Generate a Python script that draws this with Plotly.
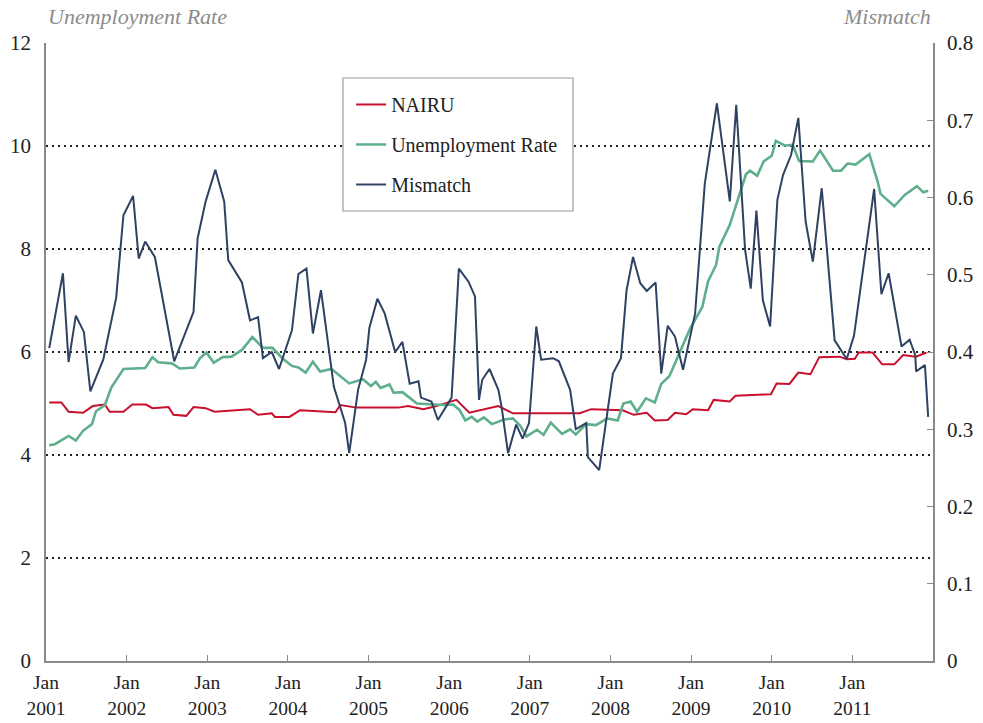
import plotly.graph_objects as go

# ---- data (decimal years, values) ----
nairu_x = [2001.04, 2001.19, 2001.28, 2001.46, 2001.58, 2001.73, 2001.79, 2001.96, 2002.07, 2002.24,
           2002.32, 2002.52, 2002.58, 2002.74, 2002.83, 2002.98, 2003.09, 2003.53, 2003.63, 2003.80,
           2003.84, 2004.02, 2004.15, 2004.59, 2004.65, 2004.85, 2005.37, 2005.49, 2005.68, 2005.82,
           2006.09, 2006.25, 2006.61, 2006.79, 2007.62, 2007.76, 2008.15, 2008.29, 2008.45, 2008.55,
           2008.71, 2008.80, 2008.94, 2009.02, 2009.21, 2009.28, 2009.48, 2009.55, 2009.99, 2010.06,
           2010.22, 2010.33, 2010.48, 2010.59, 2010.84, 2010.93, 2011.03, 2011.08, 2011.25, 2011.37,
           2011.52, 2011.63, 2011.79, 2011.92]
nairu_y = [5.02, 5.02, 4.84, 4.82, 4.95, 4.98, 4.84, 4.84, 4.98, 4.98,
           4.91, 4.93, 4.78, 4.76, 4.93, 4.91, 4.84, 4.89, 4.78, 4.81,
           4.74, 4.74, 4.87, 4.83, 4.97, 4.92, 4.92, 4.95, 4.89, 4.94,
           5.07, 4.82, 4.95, 4.81, 4.81, 4.89, 4.87, 4.78, 4.82, 4.67,
           4.68, 4.82, 4.79, 4.89, 4.87, 5.07, 5.04, 5.15, 5.18, 5.39,
           5.38, 5.60, 5.57, 5.90, 5.91, 5.86, 5.87, 5.99, 5.99, 5.76,
           5.76, 5.94, 5.91, 5.99]

unemp_x = [2001.04, 2001.11, 2001.28, 2001.37, 2001.46, 2001.57, 2001.62, 2001.73, 2001.81, 2001.96,
           2002.23, 2002.32, 2002.39, 2002.56, 2002.66, 2002.84, 2002.91, 2002.99, 2003.08, 2003.19,
           2003.30, 2003.43, 2003.56, 2003.69, 2003.81, 2003.93, 2004.05, 2004.13, 2004.22, 2004.31,
           2004.40, 2004.54, 2004.76, 2004.93, 2005.03, 2005.09, 2005.15, 2005.26, 2005.31, 2005.42,
           2005.60, 2005.76, 2005.93, 2006.05, 2006.13, 2006.20, 2006.28, 2006.35, 2006.43, 2006.53,
           2006.68, 2006.79, 2006.88, 2006.96, 2007.09, 2007.17, 2007.26, 2007.40, 2007.50, 2007.57,
           2007.70, 2007.82, 2007.96, 2008.09, 2008.16, 2008.25, 2008.33, 2008.44, 2008.55, 2008.63,
           2008.73, 2008.88, 2008.98, 2009.14, 2009.21, 2009.31, 2009.35, 2009.48, 2009.60, 2009.68,
           2009.73, 2009.82, 2009.90, 2010.00, 2010.05, 2010.16, 2010.26, 2010.34, 2010.51, 2010.60,
           2010.76, 2010.86, 2010.94, 2011.04, 2011.21, 2011.31, 2011.35, 2011.52, 2011.65, 2011.80,
           2011.88, 2011.94]
unemp_y = [4.19, 4.21, 4.37, 4.28, 4.47, 4.60, 4.85, 4.97, 5.31, 5.67,
           5.69, 5.90, 5.80, 5.78, 5.68, 5.70, 5.88, 5.99, 5.79, 5.90,
           5.91, 6.04, 6.29, 6.08, 6.08, 5.88, 5.73, 5.70, 5.60, 5.81,
           5.62, 5.67, 5.39, 5.47, 5.34, 5.42, 5.30, 5.37, 5.21, 5.22,
           5.00, 4.98, 4.97, 4.98, 4.87, 4.67, 4.74, 4.65, 4.73, 4.60,
           4.69, 4.71, 4.57, 4.36, 4.49, 4.39, 4.63, 4.41, 4.50, 4.40,
           4.60, 4.58, 4.71, 4.67, 5.00, 5.04, 4.84, 5.10, 5.02, 5.38,
           5.53, 6.07, 6.43, 6.88, 7.37, 7.69, 8.04, 8.47, 9.05, 9.45,
           9.52, 9.42, 9.70, 9.81, 10.10, 10.01, 10.02, 9.71, 9.70, 9.91,
           9.52, 9.52, 9.66, 9.64, 9.84, 9.33, 9.07, 8.83, 9.05, 9.22,
           9.10, 9.13]

mismatch_x = [2001.04, 2001.21, 2001.28, 2001.37, 2001.47, 2001.55, 2001.71, 2001.87, 2001.96, 2002.08,
              2002.15, 2002.23, 2002.35, 2002.59, 2002.83, 2002.88, 2002.98, 2003.10, 2003.21, 2003.26,
              2003.43, 2003.53, 2003.63, 2003.69, 2003.80, 2003.89, 2004.05, 2004.13, 2004.23, 2004.31,
              2004.41, 2004.57, 2004.71, 2004.76, 2004.87, 2004.97, 2005.01, 2005.11, 2005.20, 2005.33,
              2005.42, 2005.51, 2005.62, 2005.65, 2005.78, 2005.86, 2006.03, 2006.12, 2006.24, 2006.32,
              2006.37, 2006.41, 2006.50, 2006.61, 2006.65, 2006.73, 2006.83, 2006.91, 2006.99, 2007.08,
              2007.14, 2007.29, 2007.36, 2007.50, 2007.57, 2007.70, 2007.72, 2007.86, 2008.03, 2008.13,
              2008.20, 2008.28, 2008.37, 2008.45, 2008.56, 2008.63, 2008.71, 2008.80, 2008.90, 2009.05,
              2009.17, 2009.32, 2009.48, 2009.56, 2009.67, 2009.74, 2009.81, 2009.89, 2009.98, 2010.07,
              2010.14, 2010.24, 2010.33, 2010.42, 2010.51, 2010.62, 2010.78, 2010.93, 2011.02, 2011.27,
              2011.36, 2011.45, 2011.61, 2011.71, 2011.78, 2011.79, 2011.90, 2011.94]
mismatch_y = [0.405, 0.502, 0.387, 0.447, 0.426, 0.349, 0.390, 0.470, 0.577, 0.602,
              0.521, 0.543, 0.523, 0.388, 0.452, 0.547, 0.595, 0.636, 0.595, 0.519,
              0.490, 0.441, 0.445, 0.392, 0.400, 0.378, 0.428, 0.501, 0.508, 0.424,
              0.480, 0.355, 0.308, 0.269, 0.351, 0.390, 0.431, 0.469, 0.450, 0.400,
              0.413, 0.359, 0.362, 0.341, 0.336, 0.312, 0.341, 0.508, 0.491, 0.472,
              0.338, 0.364, 0.378, 0.351, 0.329, 0.269, 0.306, 0.288, 0.308, 0.433,
              0.390, 0.392, 0.388, 0.351, 0.300, 0.308, 0.264, 0.247, 0.372, 0.392,
              0.480, 0.523, 0.489, 0.479, 0.490, 0.372, 0.434, 0.420, 0.377, 0.450,
              0.618, 0.722, 0.595, 0.720, 0.532, 0.482, 0.583, 0.467, 0.433, 0.597,
              0.629, 0.655, 0.703, 0.569, 0.517, 0.612, 0.415, 0.391, 0.421, 0.611,
              0.475, 0.502, 0.407, 0.416, 0.396, 0.375, 0.383, 0.316]

years = list(range(2001, 2012))
year_labels = ["Jan<br>%d" % y for y in years]
left_ticks = [0, 2, 4, 6, 8, 10, 12]
right_ticks = [0, 0.1, 0.2, 0.3, 0.4, 0.5, 0.6, 0.7, 0.8]
right_labels = ["0", "0.1", "0.2", "0.3", "0.4", "0.5", "0.6", "0.7", "0.8"]

FONT = "Liberation Serif"
RED = "#c8102e"
GREEN = "#5fae8c"
NAVY = "#2f4263"
AXC = "#8a8a8a"
TXT = "#222"

fig = go.Figure()
fig.add_trace(go.Scatter(x=nairu_x, y=nairu_y, mode="lines", name="NAIRU",
                         line=dict(color=RED, width=2), legendgroup="a"))
fig.add_trace(go.Scatter(x=unemp_x, y=unemp_y, mode="lines", name="Unemployment Rate",
                         line=dict(color=GREEN, width=2.6), legendgroup="b"))
fig.add_trace(go.Scatter(x=mismatch_x, y=mismatch_y, mode="lines", name="Mismatch",
                         line=dict(color=NAVY, width=2), legendgroup="c", yaxis="y2"))

fig.update_layout(
    width=983, height=723,
    autosize=False,
    margin=dict(l=46, r=50, t=43, b=62, autoexpand=False),
    paper_bgcolor="white", plot_bgcolor="white",
    font=dict(family=FONT, size=21, color=TXT),
    showlegend=True,
    legend=dict(x=0.344, y=0.932, xanchor="left", yanchor="top",
                borderwidth=0, bgcolor="rgba(0,0,0,0)",
                traceorder="grouped", tracegroupgap=11,
                font=dict(family=FONT, size=20, color=TXT),
                itemwidth=30),
    shapes=[dict(type="rect", xref="paper", yref="paper",
                 x0=(343 - 46) / 887, x1=(573 - 46) / 887,
                 y0=(661 - 211) / 618, y1=(661 - 78) / 618,
                 line=dict(color="#9a9a9a", width=1.2), fillcolor="white", layer="above")],
    xaxis=dict(range=[2001, 2012], tickvals=years, ticktext=year_labels, automargin=False,
               showgrid=False, zeroline=False, showline=True, linecolor=AXC, linewidth=1.5,
               ticks="inside", ticklen=6, tickcolor=AXC, tickwidth=1, ticklabelstandoff=3,
               tickfont=dict(family=FONT, size=19.5, color=TXT)),
    yaxis=dict(range=[0, 12], tickvals=left_ticks, showgrid=True, gridcolor="#222", automargin=False,
               griddash="2px,4px", gridwidth=1.5, zeroline=False, showline=True,
               linecolor=AXC, linewidth=1.5, ticks="", ticklabelstandoff=9,
               tickfont=dict(family=FONT, size=21, color=TXT)),
    yaxis2=dict(range=[0, 0.8], tickvals=right_ticks, ticktext=right_labels, automargin=False,
                overlaying="y", side="right", showgrid=False, zeroline=False,
                showline=True, linecolor=AXC, linewidth=1.5, ticks="inside",
                ticklen=6, tickcolor=AXC, ticklabelstandoff=8,
                tickfont=dict(family=FONT, size=21, color=TXT)),
    annotations=[
        dict(text="<i>Unemployment Rate</i>", xref="paper", yref="paper",
             x=0.0, y=1.0, xanchor="left", yanchor="bottom", yshift=12, showarrow=False,
             font=dict(family=FONT, size=22, color="#8c8c8c")),
        dict(text="<i>Mismatch</i>", xref="paper", yref="paper",
             x=1.0, y=1.0, xanchor="right", yanchor="bottom", yshift=12, showarrow=False,
             font=dict(family=FONT, size=22, color="#8c8c8c")),
    ],
)

fig.write_html("out.html", config={"displayModeBar": False},
               post_script="document.body.style.margin='0';")
